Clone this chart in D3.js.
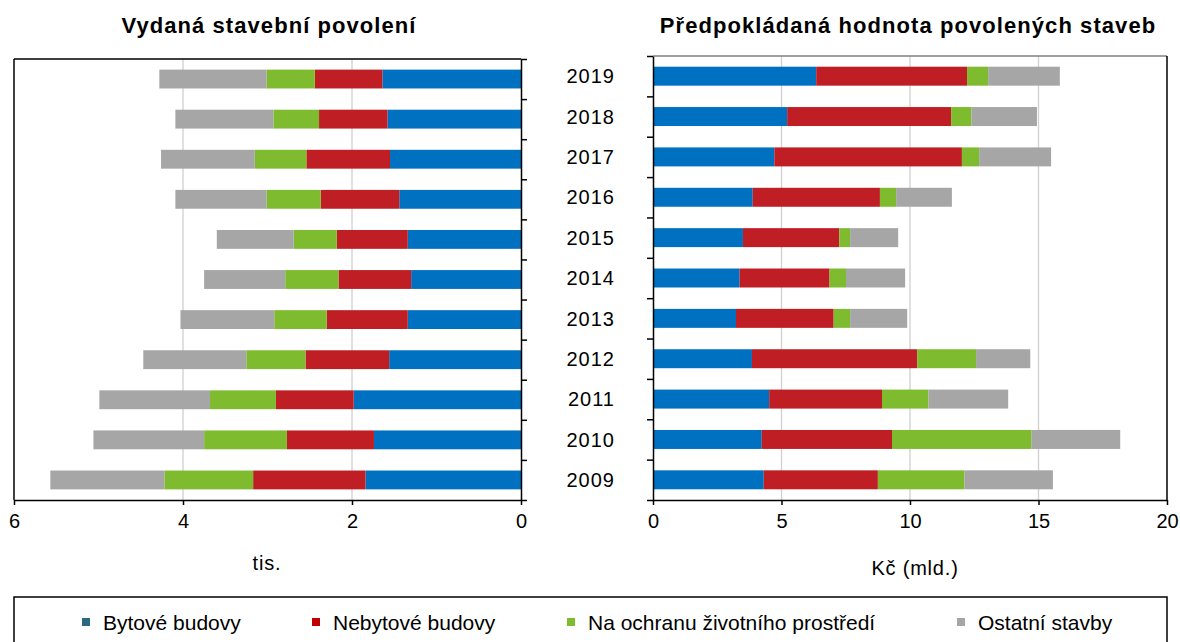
<!DOCTYPE html>
<html><head><meta charset="utf-8">
<script src="https://cdn.jsdelivr.net/npm/d3@7"></script>
<style>body{margin:0;background:#fff} svg{display:block;font-family:"Liberation Sans",Arial,sans-serif}</style>
</head><body><svg id="c" width="1180" height="642"></svg>
<script>
const years = ["2019","2018","2017","2016","2015","2014","2013","2012","2011","2010","2009"];
const seriesNames = ["Bytové budovy","Nebytové budovy","Na ochranu životního prostředí","Ostatní stavby"];
const seriesKeys = ["byt","nebyt","ochr","ost"];
const barColors = ["#0070c0","#be1e24","#7ebb2e","#a6a6a6"];
const legendColors = ["#2b6a7c","#c00000","#7ebb2e","#a6a6a6"];

// Vydaná stavební povolení (tis.)
const permitsByt   = [1.64,1.58,1.55,1.44,1.34,1.30,1.34,1.56,1.98,1.74,1.84];
const permitsNebyt = [0.80,0.81,0.99,0.93,0.84,0.86,0.96,0.99,0.92,1.03,1.33];
const permitsOchr  = [0.57,0.54,0.61,0.64,0.51,0.63,0.62,0.70,0.78,0.98,1.05];
const permitsOst   = [1.27,1.16,1.11,1.08,0.91,0.96,1.11,1.22,1.31,1.31,1.35];

// Předpokládaná hodnota (Kč mld.)
const valueByt   = [6.35,5.22,4.72,3.88,3.50,3.37,3.23,3.85,4.52,4.23,4.31];
const valueNebyt = [5.87,6.38,7.30,4.95,3.75,3.50,3.80,6.43,4.39,5.07,4.44];
const valueOchr  = [0.82,0.79,0.67,0.63,0.42,0.64,0.64,2.29,1.81,5.43,3.37];
const valueOst   = [2.79,2.55,2.80,2.17,1.87,2.30,2.22,2.11,3.10,3.45,3.44];

const leftTicks = [6,4,2,0];
const rightTicks = [0,5,10,15,20];

const svg = d3.select("#c");

function rows(a,b,c,d){ return years.map((y,i)=>({year:y,byt:a[i],nebyt:b[i],ochr:c[i],ost:d[i]})); }
const stack = d3.stack().keys(seriesKeys);

function panel(cfg){
  const g = svg.append("g");
  const [x0,x1] = cfg.xr, [y0,y1] = cfg.yr;
  const x = d3.scaleLinear().domain(cfg.domain).range(cfg.xr);
  const y = d3.scaleBand().domain(years).range(cfg.yr).paddingInner(0.53).paddingOuter(0.265);
  g.selectAll(".grid").data(cfg.grid).join("line")
    .attr("x1",d=>x(d)).attr("x2",d=>x(d)).attr("y1",y0).attr("y2",y1)
    .attr("stroke","#d0d0d0").attr("stroke-width",1.3);
  const series = stack(cfg.data);
  g.selectAll(".s").data(series).join("g").attr("fill",(d,i)=>barColors[i])
    .selectAll("rect").data(d=>d).join("rect")
    .attr("x",d=>Math.min(x(d[0]),x(d[1])))
    .attr("width",d=>Math.abs(x(d[1])-x(d[0])))
    .attr("y",d=>y(d.data.year)).attr("height",y.bandwidth());
  g.append("line").attr("x1",x0).attr("x2",x1).attr("y1",y0).attr("y2",y0)
    .attr("stroke",cfg.topColor).attr("stroke-width",1.5);
  g.append("line").attr("x1",cfg.borderX).attr("x2",cfg.borderX).attr("y1",y0).attr("y2",y1)
    .attr("stroke","#000").attr("stroke-width",1.5);
  const cat = d3.scaleLinear().domain([0,years.length]).range([y0,y1]);
  const catAxis = (cfg.catSide==="right"?d3.axisRight(cat):d3.axisLeft(cat))
    .tickValues(d3.range(0,years.length+1)).tickFormat("").tickSize(6).tickSizeOuter(0);
  const ca = g.append("g").attr("transform",`translate(${cfg.catX},0)`).call(catAxis);
  ca.selectAll("path,line").attr("stroke","#000").attr("stroke-width",1.5);
  const va = g.append("g").attr("transform",`translate(0,${y1})`)
    .call(d3.axisBottom(x).tickValues(cfg.ticks).tickFormat(d3.format("d")).tickSize(5).tickSizeOuter(0).tickPadding(9));
  va.selectAll("path,line").attr("stroke","#000").attr("stroke-width",1.5);
  va.selectAll("text").attr("font-size",20).attr("fill","#000").attr("font-family","Liberation Sans, Arial, sans-serif");
  return y;
}

panel({xr:[14,521], yr:[59,500], domain:[6,0], grid:[2,4], ticks:leftTicks,
  data:rows(permitsByt,permitsNebyt,permitsOchr,permitsOst),
  topColor:"#000", borderX:14, catSide:"right", catX:521});
const yR = panel({xr:[653,1167], yr:[56,500], domain:[0,20], grid:[5,10,15], ticks:rightTicks,
  data:rows(valueByt,valueNebyt,valueOchr,valueOst),
  topColor:"#808080", borderX:1167, catSide:"left", catX:653});

// year labels
svg.append("g").selectAll("text").data(years).join("text")
  .attr("x",615).attr("y",d=>yR(d)+yR.bandwidth()/2).attr("dy","0.36em")
  .attr("text-anchor","end").attr("font-size",20).attr("letter-spacing",1).attr("fill","#000").text(d=>d);

// titles
svg.append("text").attr("x",269).attr("y",33).attr("text-anchor","middle")
  .attr("font-size",22).attr("letter-spacing",1.07).attr("font-weight","bold").text("Vydaná stavební povolení");
svg.append("text").attr("x",908).attr("y",33).attr("text-anchor","middle")
  .attr("font-size",22).attr("letter-spacing",1.07).attr("font-weight","bold").text("Předpokládaná hodnota povolených staveb");

// axis titles
svg.append("text").attr("x",267).attr("y",570).attr("text-anchor","middle").attr("font-size",20).attr("letter-spacing",0.8).text("tis.");
svg.append("text").attr("x",915).attr("y",575).attr("text-anchor","middle").attr("font-size",20).attr("letter-spacing",0.8).text("Kč (mld.)");

// legend
svg.append("rect").attr("x",14).attr("y",597).attr("width",1153).attr("height",60)
  .attr("fill","none").attr("stroke","#000").attr("stroke-width",1.5);
const legX = [82,312,567,957];
const lg = svg.append("g").selectAll("g").data(seriesNames).join("g")
  .attr("transform",(d,i)=>`translate(${legX[i]},622)`);
lg.append("rect").attr("x",0).attr("y",-4).attr("width",8).attr("height",8).attr("fill",(d,i)=>legendColors[i]);
lg.append("text").attr("x",21).attr("dy","0.36em").attr("font-size",21).attr("fill","#000").text(d=>d);
</script></body></html>
